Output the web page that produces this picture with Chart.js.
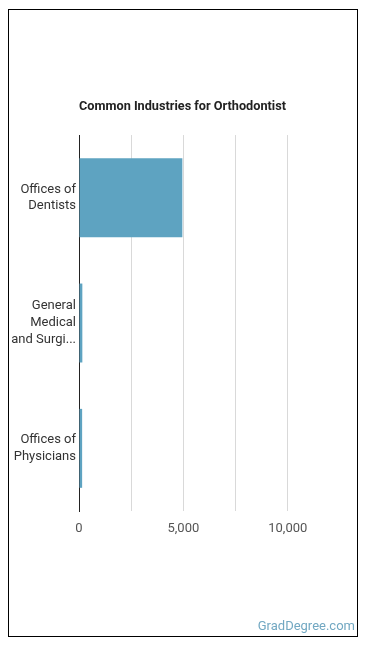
<!DOCTYPE html>
<html>
<head>
<meta charset="utf-8">
<script src="https://cdn.jsdelivr.net/npm/chart.js@4"></script>
<style>
  html, body { margin: 0; padding: 0; background: #fff; }
  #wrap { position: relative; width: 370px; height: 648px; }
  #frame { position: absolute; left: 8px; top: 9px; width: 350px; height: 628px; border: 1px solid #000; box-sizing: border-box; }
  canvas { position: absolute; left: 0; top: 0; }
  #brand { position: absolute; right: 15px; top: 618px; font-family: Roboto, sans-serif; font-size: 13px; color: #72a8c2; }
</style>
</head>
<body>
<div id="wrap">
  <div id="frame"></div>
  <canvas id="c" width="370" height="648"></canvas>
  <div id="brand">GradDegree.com</div>
</div>
<script>
const titleText = "Common Industries for Orthodontist";
const categories = [["Offices of", "Dentists"], ["General", "Medical", "and Surgi..."], ["Offices of", "Physicians"]];
const employment = [4950, 160, 150];
const tickLabelValues = [0, 5000, 10000];

// shift the title's centring box so it centres where the reference does
const titleShift = {
  id: 'titleShift',
  afterLayout(chart) {
    if (chart.titleBlock) { chart.titleBlock.left += 17; }
  }
};

const ctx = document.getElementById('c');
new Chart(ctx, {
  type: 'bar',
  data: {
    labels: categories,
    datasets: [{
      data: employment,
      backgroundColor: '#5ea3c1',
      borderWidth: 0,
      categoryPercentage: 0.7,
      barPercentage: 0.9
    }]
  },
  options: {
    indexAxis: 'y',
    responsive: false,
    animation: false,
    layout: { padding: { left: 8, right: 30, top: 99, bottom: 107 } },
    plugins: {
      legend: { display: false },
      tooltip: { enabled: false },
      title: {
        display: true,
        text: titleText,
        color: '#222',
        font: { family: 'Roboto', size: 12.7, weight: 'bold', lineHeight: 1.2 },
        padding: { top: 0, bottom: 20.8 }
      }
    },
    scales: {
      x: {
        min: 0, max: 12500,
        ticks: {
          stepSize: 2500,
          color: '#555',
          font: { family: 'Roboto', size: 13 },
          padding: 10,
          callback: (v) => tickLabelValues.includes(v) ? v.toLocaleString('en-US') : ''
        },
        grid: {
          drawTicks: false,
          color: (c) => (c.tick && (c.tick.value === 0 || c.tick.value === 12500)) ? 'rgba(0,0,0,0)' : '#d9d9d9'
        },
        border: { display: false },
        afterFit: (s) => { s.height = 30; }
      },
      y: {
        ticks: {
          color: '#333',
          font: { family: 'Roboto', size: 13, lineHeight: 1.3 },
          padding: 3
        },
        grid: { display: false, drawTicks: false },
        border: { display: true, color: '#222', width: 1 },
        afterFit: (s) => { s.width = 71; }
      }
    }
  },
  plugins: [titleShift]
});
</script>
</body>
</html>
